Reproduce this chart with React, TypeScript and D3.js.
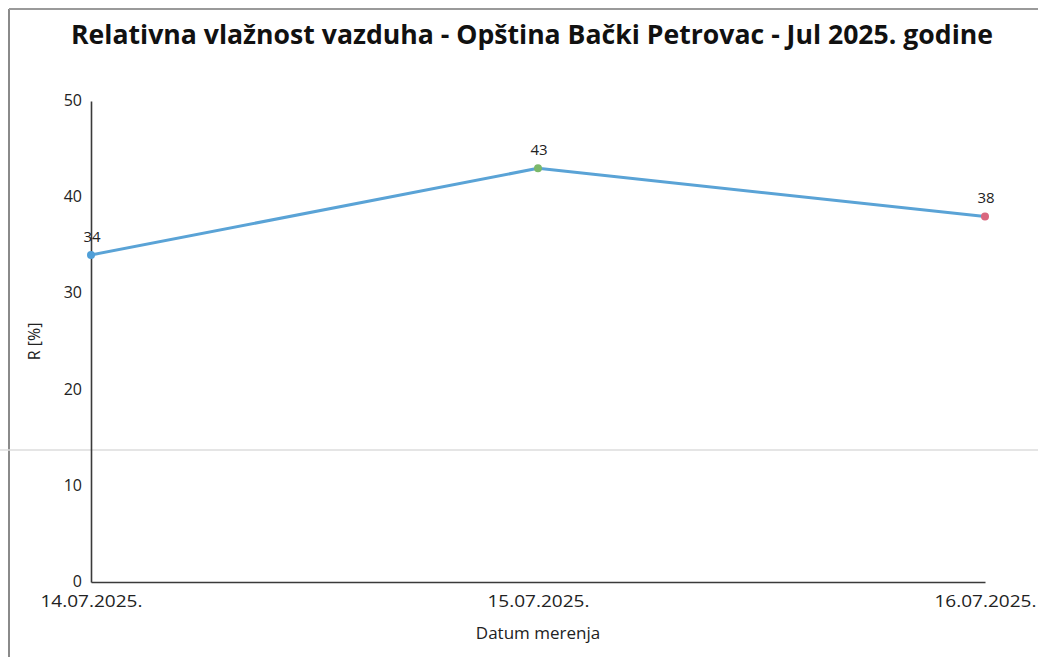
import { useEffect, useRef } from "react";
import * as d3 from "d3";

const WIDTH = 1038;
const HEIGHT = 657;
const MARGIN = { top: 101, right: 53, bottom: 75, left: 91 };

const TITLE = "Relativna vlažnost vazduha - Opština Bački Petrovac - Jul 2025. godine";
const dates = ["14.07.2025.", "15.07.2025.", "16.07.2025."];
const humidity = [34, 43, 38];
const pointColors = ["#4f9fd8", "#7cb86a", "#d9677f"];
const yTicks = [0, 10, 20, 30, 40, 50];

const FONT = "'Open Sans', 'Noto Sans', sans-serif";

export default function App() {
  const axesRef = useRef<SVGGElement | null>(null);
  const boundsWidth = WIDTH - MARGIN.left - MARGIN.right;
  const boundsHeight = HEIGHT - MARGIN.top - MARGIN.bottom;

  const xScale = d3.scalePoint<string>().domain(dates).range([0, boundsWidth]);
  const yScale = d3.scaleLinear().domain([0, 50]).range([boundsHeight, 0]);

  const line = d3
    .line<number>()
    .x((_, i) => xScale(dates[i]) as number)
    .y((d) => yScale(d));

  // axes drawn by d3, the rest is JSX
  useEffect(() => {
    const g = d3.select(axesRef.current);
    g.selectAll("*").remove();

    const yAxis = g
      .append("g")
      .call(d3.axisLeft(yScale).tickValues(yTicks).tickSize(0).tickPadding(9));
    yAxis.select(".domain").attr("stroke", "#3a3a3a").attr("stroke-width", 1.6);
    yAxis
      .selectAll("text")
      .style("font-family", FONT)
      .style("font-size", "16px")
      .attr("dy", "0.28em")
      .attr("fill", "#222");

    const xAxis = g
      .append("g")
      .attr("transform", `translate(0,${boundsHeight})`)
      .call(d3.axisBottom(xScale).tickSize(0).tickPadding(13));
    xAxis.select(".domain").attr("stroke", "#3a3a3a").attr("stroke-width", 1.6);
    xAxis
      .selectAll("text")
      .style("font-family", FONT)
      .style("font-size", "17px")
      .attr("textLength", 102)
      .attr("lengthAdjust", "spacingAndGlyphs")
      .attr("fill", "#222");
  }, [boundsHeight]);

  return (
    <svg
      width={WIDTH}
      height={HEIGHT}
      style={{ position: "absolute", left: 0, top: 0, background: "#fff" }}
    >
      {/* scan frame */}
      <line x1={9} x2={9} y1={9} y2={HEIGHT} stroke="#8a8a8a" strokeWidth={2} />
      <line x1={9} x2={WIDTH} y1={9} y2={9} stroke="#9a9a9a" strokeWidth={2} />
      <line x1={0} x2={WIDTH} y1={450} y2={450} stroke="#dcdcdc" strokeWidth={1.5} />

      <text
        x={532}
        y={44}
        textAnchor="middle"
        textLength={922}
        lengthAdjust="spacingAndGlyphs"
        style={{ fontFamily: FONT, fontWeight: 700, fontSize: 27 }}
        fill="#111"
      >
        {TITLE}
      </text>

      <g transform={`translate(${MARGIN.left},${MARGIN.top})`}>
        <g ref={axesRef} />
        <path
          d={line(humidity) ?? ""}
          fill="none"
          stroke="#5aa3d6"
          strokeWidth={3}
          strokeLinejoin="round"
        />
        {humidity.map((v, i) => (
          <g key={dates[i]}>
            <circle
              cx={xScale(dates[i])}
              cy={yScale(v)}
              r={4}
              fill={pointColors[i]}
            />
            <text
              x={(xScale(dates[i]) as number) + 1}
              y={yScale(v) - 13}
              textAnchor="middle"
              style={{ fontFamily: FONT, fontSize: 15 }}
              fill="#222"
            >
              {v}
            </text>
          </g>
        ))}
        <text
          x={boundsWidth / 2}
          y={boundsHeight + 57}
          textAnchor="middle"
          style={{ fontFamily: FONT, fontSize: 17 }}
          fill="#222"
        >
          Datum merenja
        </text>
        <text
          transform={`translate(${-51},${boundsHeight / 2}) rotate(-90)`}
          textAnchor="middle"
          style={{ fontFamily: FONT, fontSize: 16 }}
          fill="#222"
        >
          R [%]
        </text>
      </g>
    </svg>
  );
}
